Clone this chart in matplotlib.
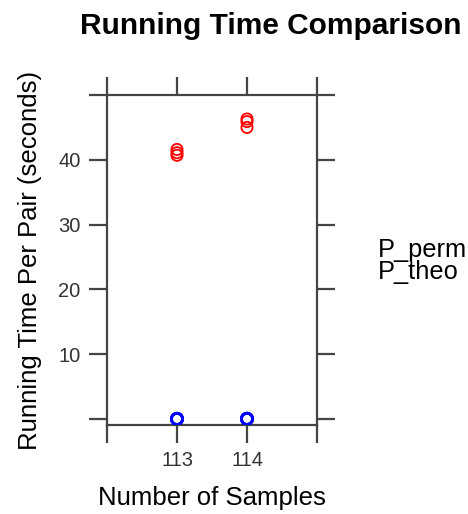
import matplotlib
matplotlib.use("Agg")
import matplotlib.pyplot as plt

plt.rcParams['font.family'] = ['Liberation Sans', 'DejaVu Sans']

samples_perm = [113, 113, 113, 114, 114, 114]
time_perm = [41.6, 41.1, 40.7, 46.3, 45.9, 45.0]
samples_theo = [113, 113, 113, 114, 114, 114]
time_theo = [0.05, 0.03, 0.04, 0.05, 0.04, 0.06]
series_names = ["P_perm", "P_theo"]
xticks = [112, 113, 114, 115]
xtick_labels = ["", "113", "114", ""]
yticks = [0, 10, 20, 30, 40, 50]
ytick_labels = ["", "10", "20", "30", "40", ""]

fig = plt.figure(figsize=(4.68, 5.14), dpi=100)
ax = fig.add_axes([107/468, 1-425/514, 210/468, 330/514])

ax.scatter(samples_perm, time_perm, s=65, facecolors='none', edgecolors='#FF0000', linewidths=1.3, zorder=3)
ax.scatter(samples_theo, time_theo, s=65, facecolors='none', edgecolors='#0000FF', linewidths=2.0, zorder=3)

ax.set_xlim(112, 115)
ax.set_ylim(-0.9, 50)
ax.set_xticks(xticks)
ax.set_xticklabels(xtick_labels)
ax.set_yticks(yticks)
ax.set_yticklabels(ytick_labels)
ax.tick_params(axis='both', direction='out', length=13, width=1.6, color='#444444',
               labelsize=14.5, labelcolor='#333333')
ax.tick_params(axis='x', top=True, bottom=True, pad=5.5)
ax.tick_params(axis='y', left=True, right=True, pad=6)
for sp in ax.spines.values():
    sp.set_linewidth(1.6)
    sp.set_color('#444444')

ax.set_xlabel("Number of Samples", fontsize=18.5)
ax.xaxis.set_label_coords(0.5, -(498-425)/330)
ax.xaxis.label.set_va('center')
ax.set_ylabel("Running Time Per Pair (seconds)", fontsize=18.5, labelpad=12)

fig.text(0.579, 1-26/514, "Running Time Comparison", ha='center', va='center',
         fontsize=21.5, fontweight='bold')
fig.text(378/468, 1-250/514, series_names[0], ha='left', va='center', fontsize=18.3)
fig.text(378/468, 1-272/514, series_names[1], ha='left', va='center', fontsize=18.3)

fig.savefig("out.png", dpi=100)
